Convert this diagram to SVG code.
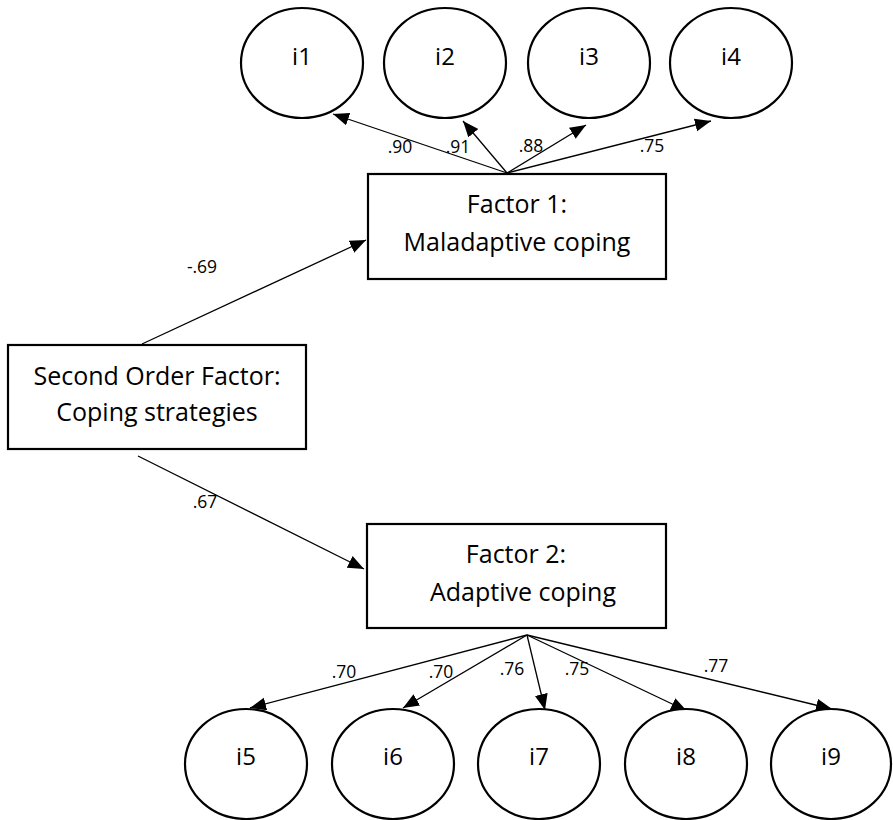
<svg xmlns="http://www.w3.org/2000/svg" width="893" height="820" viewBox="0 0 893 820">
  <style>
    .box { fill: #ffffff; stroke: #000000; stroke-width: 2.2; }
    .item { fill: #ffffff; stroke: #000000; stroke-width: 2.2; }
    .edge { fill: none; stroke: #000000; stroke-width: 1.3; marker-end: url(#arrow); }
    .title { font-family: "Open Sans", "Liberation Sans", sans-serif; font-size: 25px; fill: #000000; text-anchor: middle; }
    .itemlabel { font-family: "Open Sans", "Liberation Sans", sans-serif; font-size: 24px; fill: #000000; text-anchor: middle; }
    .load { font-family: "Open Sans", "Liberation Sans", sans-serif; font-size: 17.5px; fill: #000000; text-anchor: middle; }
  </style>
  <defs>
    <marker id="arrow" markerUnits="userSpaceOnUse" markerWidth="17" markerHeight="14" refX="16" refY="6.5" orient="auto">
      <path d="M0,0 L16,6.5 L0,13 Z" fill="#000000"/>
    </marker>
  </defs>
  <rect width="893" height="820" fill="#ffffff"/>

  <!-- paths and loadings -->
  <g id="connectors">
    <!-- second order factor to first order factors -->
    <line class="edge" x1="142" y1="344" x2="366" y2="240"/>
    <line class="edge" x1="138" y1="456" x2="364" y2="569"/>
    <!-- Factor 1 indicators -->
    <line class="edge" x1="507" y1="173" x2="333" y2="114"/>
    <line class="edge" x1="507" y1="173" x2="463" y2="121"/>
    <line class="edge" x1="507" y1="173" x2="586" y2="125"/>
    <line class="edge" x1="507" y1="173" x2="711" y2="121"/>
    <!-- Factor 2 indicators -->
    <line class="edge" x1="527" y1="635" x2="250" y2="708"/>
    <line class="edge" x1="527" y1="635" x2="403" y2="708"/>
    <line class="edge" x1="527" y1="635" x2="545" y2="710"/>
    <line class="edge" x1="527" y1="635" x2="687" y2="711"/>
    <line class="edge" x1="527" y1="635" x2="832" y2="709"/>

    <text class="load" x="202" y="273">-.69</text>
    <text class="load" x="205" y="508">.67</text>
    <text class="load" x="400" y="153">.90</text>
    <text class="load" x="458" y="153">.91</text>
    <text class="load" x="531" y="152">.88</text>
    <text class="load" x="652" y="152">.75</text>
    <text class="load" x="344" y="678">.70</text>
    <text class="load" x="441" y="678">.70</text>
    <text class="load" x="512" y="675">.76</text>
    <text class="load" x="577" y="675">.75</text>
    <text class="load" x="716" y="672">.77</text>
  </g>

  <g id="second-order">
    <rect class="box" x="8" y="345" width="298" height="104"/>
    <text class="title" x="157" y="385">Second Order Factor:</text>
    <text class="title" x="157" y="421">Coping strategies</text>
  </g>

  <g id="factor1">
    <rect class="box" x="368" y="174" width="298" height="105"/>
    <text class="title" x="517" y="213">Factor 1:</text>
    <text class="title" x="517" y="251">Maladaptive coping</text>
  </g>

  <g id="factor2">
    <rect class="box" x="367" y="524" width="299" height="104"/>
    <text class="title" x="516" y="563">Factor 2:</text>
    <text class="title" x="523" y="601">Adaptive coping</text>
  </g>

  <g id="i1"><ellipse class="item" cx="302" cy="63" rx="61" ry="55"/><text class="itemlabel" x="302" y="65">i1</text></g>
  <g id="i2"><ellipse class="item" cx="445" cy="63" rx="61" ry="55"/><text class="itemlabel" x="445" y="65">i2</text></g>
  <g id="i3"><ellipse class="item" cx="589" cy="63" rx="61" ry="55"/><text class="itemlabel" x="589" y="65">i3</text></g>
  <g id="i4"><ellipse class="item" cx="731" cy="63" rx="61" ry="55"/><text class="itemlabel" x="731" y="65">i4</text></g>

  <g id="i5"><ellipse class="item" cx="246" cy="764" rx="61" ry="55"/><text class="itemlabel" x="246" y="765">i5</text></g>
  <g id="i6"><ellipse class="item" cx="393" cy="764" rx="61" ry="55"/><text class="itemlabel" x="393" y="765">i6</text></g>
  <g id="i7"><ellipse class="item" cx="539" cy="764" rx="61" ry="55"/><text class="itemlabel" x="539" y="765">i7</text></g>
  <g id="i8"><ellipse class="item" cx="686" cy="764" rx="61" ry="55"/><text class="itemlabel" x="686" y="765">i8</text></g>
  <g id="i9"><ellipse class="item" cx="831" cy="764" rx="60" ry="55"/><text class="itemlabel" x="831" y="765">i9</text></g>
</svg>
